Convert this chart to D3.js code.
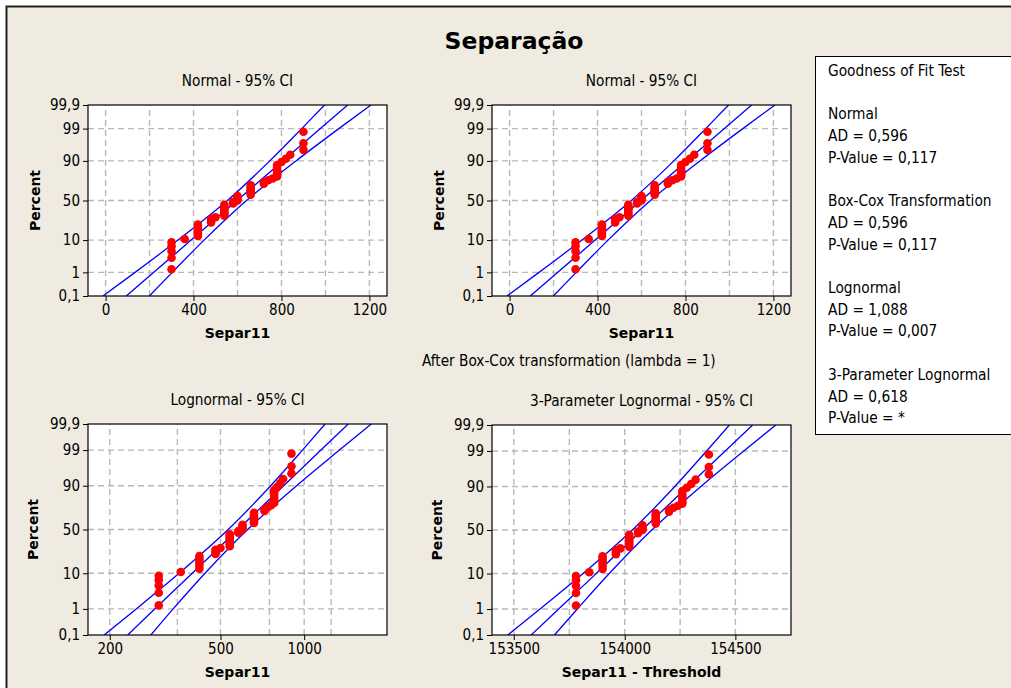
<!DOCTYPE html>
<html><head><meta charset="utf-8">
<script src="https://cdn.jsdelivr.net/npm/d3@7"></script>
<style>
html,body{margin:0;padding:0;background:#fff;}
svg{display:block;}
text{font-family:"DejaVu Sans Condensed","DejaVu Sans",sans-serif;fill:#000;}
</style></head><body>
<svg id="chart" width="1011" height="688"></svg>
<script>
// Separ11 observations (n = 53), sorted
const separ11 = [
  300,300,300,300,300,
  360,
  420,420,420,420,420,420,
  480,480,480,
  500,
  540,540,540,540,540,540,540,540,
  580,580,
  600,600,600,600,
  660,660,660,660,660,660,660,
  720,720,740,760,
  780,780,780,780,780,780,
  800,
  820,
  840,
  900,900,900
];

// Probability axis
const percentTicks  = [0.1, 1, 10, 50, 90, 99, 99.9];
const percentLabels = ["0,1", "1", "10", "50", "90", "99", "99,9"];

// Fitted percentile lines and 95% CI bands, given at these percents
const bandPercents = [0.1, 1, 10, 50, 90, 99, 99.9];

const normalFit   = [94, 218, 389, 598, 806, 977, 1101];
const normalLeft  = [-12, 134, 329, 554, 747, 892, 996];
const normalRight = [199, 303, 448, 641, 866, 1061, 1207];

const lognormalFit   = [232, 290, 396, 578, 844, 1149, 1440];
const lognormalLeft  = [191, 249, 355, 533, 758, 986, 1189];
const lognormalRight = [281, 338, 440, 626, 939, 1339, 1743];

const threshold = -153480;
const threeParFit   = [153578, 153702, 153871, 154078, 154285, 154454, 154578];
const threeParLeft  = [153473, 153618, 153812, 154034, 154226, 154370, 154473];
const threeParRight = [153683, 153786, 153930, 154122, 154344, 154538, 154683];

// X axis ticks and grid positions
const normalTicks   = [0, 400, 800, 1200];
const normalGrid    = [0, 200, 400, 600, 800, 1000, 1200];
const lognormalTicks = [200, 500, 1000];
const lognormalGrid  = [200, 350, 500, 750, 1000, 1250];
const threeParTicks = [153500, 154000, 154500];
const threeParGrid  = [153500, 153750, 154000, 154250, 154500];

// Goodness of fit summary
const goodnessLines = [
  "Goodness of Fit Test", "",
  "Normal", "AD = 0,596", "P-Value = 0,117", "",
  "Box-Cox Transformation", "AD = 0,596", "P-Value = 0,117", "",
  "Lognormal", "AD = 1,088", "P-Value = 0,007", "",
  "3-Parameter Lognormal", "AD = 0,618", "P-Value = *"
];

// Inverse standard normal CDF (Acklam)
function probit(p) {
  const a = [-3.969683028665376e+01, 2.209460984245205e+02, -2.759285104469687e+02, 1.383577518672690e+02, -3.066479806614716e+01, 2.506628277459239e+00];
  const b = [-5.447609879822406e+01, 1.615858368580409e+02, -1.556989798598866e+02, 6.680131188771972e+01, -1.328068155288572e+01];
  const c = [-7.784894002430293e-03, -3.223964580411365e-01, -2.400758277161838e+00, -2.549732539343734e+00, 4.374664141464968e+00, 2.938163982698783e+00];
  const d = [7.784695709041462e-03, 3.224671290700398e-01, 2.445134137142996e+00, 3.754408661907416e+00];
  const pl = 0.02425, ph = 1 - pl;
  let q, r;
  if (p < pl) {
    q = Math.sqrt(-2 * Math.log(p));
    return (((((c[0]*q+c[1])*q+c[2])*q+c[3])*q+c[4])*q+c[5]) / ((((d[0]*q+d[1])*q+d[2])*q+d[3])*q+1);
  }
  if (p <= ph) {
    q = p - 0.5; r = q * q;
    return (((((a[0]*r+a[1])*r+a[2])*r+a[3])*r+a[4])*r+a[5])*q / (((((b[0]*r+b[1])*r+b[2])*r+b[3])*r+b[4])*r+1);
  }
  q = Math.sqrt(-2 * Math.log(1 - p));
  return -(((((c[0]*q+c[1])*q+c[2])*q+c[3])*q+c[4])*q+c[5]) / ((((d[0]*q+d[1])*q+d[2])*q+d[3])*q+1);
}

const svg = d3.select("#chart");
const W = 1011, H = 688;

// Window frame
svg.append("rect").attr("x", 6.5).attr("y", 6.5).attr("width", W + 20).attr("height", H + 20)
  .attr("fill", "#efebe1").attr("stroke", "#222").attr("stroke-width", 2);

svg.append("text").attr("x", 514).attr("y", 49).attr("text-anchor", "middle")
  .style("font-family", "'DejaVu Sans', sans-serif").style("font-weight", "bold")
  .style("font-size", "23.5px").text("Separação");

// Median-rank plotting positions
const n = separ11.length;
const ranks = separ11.map((v, i) => ({ v, p: (i + 1 - 0.3) / (n + 0.4) }));
const zMax = -probit(0.001);

let clipId = 0;
function drawPanel(cfg) {
  const g = svg.append("g");
  const x = (cfg.log ? d3.scaleLog() : d3.scaleLinear()).domain(cfg.domain).range([cfg.left, cfg.right]);
  const y = d3.scaleLinear().domain([-zMax, zMax]).range([cfg.bottom, cfg.top]);
  const W = cfg.right - cfg.left, Hh = cfg.bottom - cfg.top;

  g.append("rect").attr("x", cfg.left).attr("y", cfg.top).attr("width", W).attr("height", Hh).attr("fill", "#fff");

  const id = "clip" + (clipId++);
  g.append("clipPath").attr("id", id).append("rect")
    .attr("x", cfg.left).attr("y", cfg.top).attr("width", W).attr("height", Hh);

  // grid
  const grid = g.append("g").attr("stroke", "#b8b8b8").attr("stroke-width", 1.4).attr("stroke-dasharray", "6,4");
  grid.selectAll(".gv").data(cfg.grid).join("line")
    .attr("x1", d => x(d)).attr("x2", d => x(d)).attr("y1", cfg.bottom).attr("y2", cfg.top);
  grid.selectAll(".gh").data(percentTicks.slice(1, -1)).join("line")
    .attr("y1", d => y(probit(d / 100))).attr("y2", d => y(probit(d / 100)))
    .attr("x1", cfg.left).attr("x2", cfg.right);

  // fit and CI
  const line = d3.line().x(d => x(d[0])).y(d => y(probit(d[1] / 100))).curve(d3.curveMonotoneY);
  const lines = g.append("g").attr("clip-path", `url(#${id})`);
  [cfg.fit, cfg.leftBand, cfg.rightBand].forEach(arr => {
    lines.append("path").datum(arr.map((v, i) => [v, bandPercents[i]]))
      .attr("d", line).attr("fill", "none").attr("stroke", "#0000ff").attr("stroke-width", 1.3);
  });

  // points
  lines.selectAll("circle").data(ranks).join("circle")
    .attr("cx", d => x(cfg.xv(d.v))).attr("cy", d => y(probit(d.p))).attr("r", 4.3)
    .attr("fill", "#ff0000");

  g.append("rect").attr("x", cfg.left).attr("y", cfg.top).attr("width", W).attr("height", Hh)
    .attr("fill", "none").attr("stroke", "#000").attr("stroke-width", 1.2);

  // axes
  const xa = g.append("g").attr("transform", `translate(0,${cfg.bottom})`)
    .call(d3.axisBottom(x).tickValues(cfg.ticks).tickFormat(d => String(d)).tickSize(5).tickPadding(3));
  const ya = g.append("g").attr("transform", `translate(${cfg.left},0)`)
    .call(d3.axisLeft(y).tickValues(percentTicks.map(p => probit(p / 100)))
      .tickFormat((d, i) => percentLabels[i]).tickSize(5).tickPadding(3));
  [xa, ya].forEach(a => {
    a.select(".domain").remove();
    a.selectAll("line").attr("stroke", "#000");
    a.selectAll("text").style("font-size", "15px").style("font-family", "'DejaVu Sans Condensed','DejaVu Sans',sans-serif");
  });

  g.append("text").attr("x", (cfg.left + cfg.right) / 2).attr("y", cfg.top - 19)
    .attr("text-anchor", "middle").style("font-size", "15.2px").text(cfg.title);
  g.append("text").attr("x", (cfg.left + cfg.right) / 2).attr("y", cfg.bottom + 42)
    .attr("text-anchor", "middle").style("font-family", "'DejaVu Sans', sans-serif")
    .style("font-weight", "bold").style("font-size", "14px").text(cfg.xLabel);
  g.append("text").attr("transform", `translate(${cfg.ylabX},${(cfg.top + cfg.bottom) / 2}) rotate(-90)`)
    .attr("text-anchor", "middle").attr("dy", "0.35em").style("font-family", "'DejaVu Sans', sans-serif")
    .style("font-weight", "bold").style("font-size", "14px").text("Percent");
}

drawPanel({ title: "Normal - 95% CI", xLabel: "Separ11", log: false, domain: [-80, 1280],
  left: 88, right: 387, top: 105, bottom: 296, ylabX: 35,
  grid: normalGrid, ticks: normalTicks, fit: normalFit, leftBand: normalLeft, rightBand: normalRight, xv: v => v });
drawPanel({ title: "Normal - 95% CI", xLabel: "Separ11", log: false, domain: [-80, 1280],
  left: 492, right: 791, top: 105, bottom: 296, ylabX: 439,
  grid: normalGrid, ticks: normalTicks, fit: normalFit, leftBand: normalLeft, rightBand: normalRight, xv: v => v });
drawPanel({ title: "Lognormal - 95% CI", xLabel: "Separ11", log: true, domain: [167, 1985],
  left: 88, right: 387, top: 424, bottom: 635, ylabX: 33,
  grid: lognormalGrid, ticks: lognormalTicks, fit: lognormalFit, leftBand: lognormalLeft, rightBand: lognormalRight, xv: v => v });
drawPanel({ title: "3-Parameter Lognormal - 95% CI", xLabel: "Separ11 - Threshold", log: true, domain: [153402, 154752],
  left: 492, right: 791, top: 425, bottom: 635, ylabX: 437,
  grid: threeParGrid, ticks: threeParTicks, fit: threeParFit, leftBand: threeParLeft, rightBand: threeParRight, xv: v => v - threshold });

svg.append("text").attr("x", 422).attr("y", 366).style("font-size", "15.2px")
  .text("After Box-Cox transformation (lambda = 1)");

// Goodness of fit box
svg.append("rect").attr("x", 815.5).attr("y", 56.5).attr("width", 220).attr("height", 378)
  .attr("fill", "#fff").attr("stroke", "#000").attr("stroke-width", 1);
svg.append("g").selectAll("text").data(goodnessLines).join("text")
  .attr("x", 828).attr("y", (d, i) => 76 + i * 21.7).style("font-size", "15.3px").text(d => d);
</script></body></html>
